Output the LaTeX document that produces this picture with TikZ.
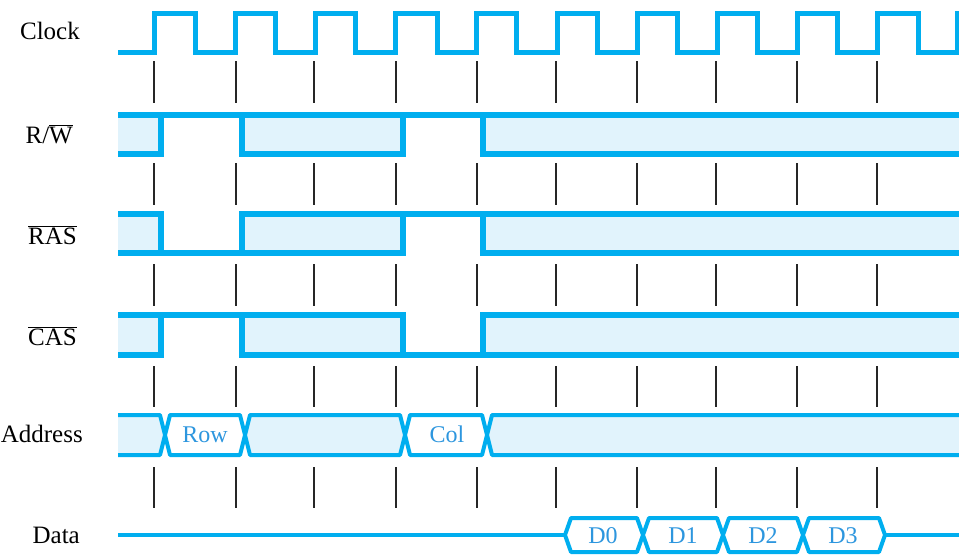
\documentclass[tikz,border=0pt]{standalone}
\usepackage{fontspec}
\setmainfont{Liberation Serif}
\definecolor{sigblue}{RGB}{0,174,239}
\definecolor{sigfill}{RGB}{225,243,252}
\definecolor{txtblue}{RGB}{45,150,222}
\tikzset{
  sig/.style={draw=sigblue, line width=5.5pt, line join=miter},
  bus/.style={draw=sigblue, line width=4pt, line join=round},
  shaded/.style={fill=sigfill},
  tickline/.style={draw=black!85, line width=1.6pt},
  lbl/.style={inner sep=0pt, anchor=base east, font=\fontsize{25}{30}\selectfont},
  inlbl/.style={inner sep=0pt, anchor=base, text=txtblue, font=\fontsize{24}{28}\selectfont}
}
\begin{document}
\begin{tikzpicture}[x=1pt,y=-1pt]
\useasboundingbox (0,0) rectangle (959,555);
\clip (0,0) rectangle (959,555);

% labels
\node[lbl] (lclk) at (80,39) {Clock};
\node[lbl] (lrw) at (73,143) {R/$\overline{\mbox{W}}$};
\node[lbl] (lras) at (77,244) {$\overline{\mbox{RAS}}$};
\node[lbl] (lcas) at (77,345) {$\overline{\mbox{CAS}}$};
\node[lbl] (ladr) at (83,442) {Address};
\node[lbl] (ldat) at (80,543) {Data};

% clock
\draw[sig, line width=5pt] (118,52) -- (154,52) -- (154,13) -- (195,13) -- (195,52)
  -- (235,52) -- (235,13) -- (275,13) -- (275,52)
  -- (315,52) -- (315,13) -- (355,13) -- (355,52)
  -- (395,52) -- (395,13) -- (437,13) -- (437,52)
  -- (476,52) -- (476,13) -- (516,13) -- (516,52)
  -- (557,52) -- (557,13) -- (597,13) -- (597,52)
  -- (637,52) -- (637,13) -- (677,13) -- (677,52)
  -- (717,52) -- (717,13) -- (757,13) -- (757,52)
  -- (797,52) -- (797,13) -- (837,13) -- (837,52)
  -- (877,52) -- (877,13) -- (918,13) -- (918,52)
  -- (957,52) -- (957,13) -- (965,13);

% ticks
\foreach \y/\z in {61/103,163/205,264/306,366/407,467/508}
  \foreach \x in {154,236,314,396,477,556,637,716,797,877}
    \draw[tickline] (\x,\y) -- (\x,\z);

% R/W
\fill[shaded] (118,115) rectangle (161,154);
\fill[shaded] (242,115) rectangle (403,154);
\fill[shaded] (483,115) rectangle (965,154);
\draw[sig] (118,115) -- (965,115);
\draw[sig] (118,154) -- (161,154) -- (161,115);
\draw[sig] (242,115) -- (242,154) -- (403,154) -- (403,115);
\draw[sig] (483,115) -- (483,154) -- (965,154);

% RAS
\fill[shaded] (118,214) rectangle (161,253);
\fill[shaded] (242,214) rectangle (403,253);
\fill[shaded] (483,214) rectangle (965,253);
\draw[sig] (118,214) -- (161,214) -- (161,253);
\draw[sig] (118,253) -- (403,253) -- (403,214);
\draw[sig] (242,253) -- (242,214) -- (965,214);
\draw[sig] (483,214) -- (483,253) -- (965,253);

% CAS
\fill[shaded] (118,315) rectangle (161,355);
\fill[shaded] (242,315) rectangle (403,355);
\fill[shaded] (483,315) rectangle (965,355);
\draw[sig] (118,355) -- (161,355) -- (161,315);
\draw[sig] (118,315) -- (403,315) -- (403,355) -- (965,355);
\draw[sig] (242,315) -- (242,355) -- (403,355);
\draw[sig] (483,355) -- (483,315) -- (965,315);

% Address
\path[bus, shaded] (118,415) -- (160,415) -- (165,435) -- (160,455) -- (118,455);
\draw[bus] (170,415) -- (240,415) -- (245,435) -- (240,455) -- (170,455) -- (165,435) -- cycle;
\path[bus, shaded] (250,415) -- (400,415) -- (405,435) -- (400,455) -- (250,455) -- (245,435) -- cycle;
\draw[bus] (410,415) -- (482,415) -- (487,435) -- (482,455) -- (410,455) -- (405,435) -- cycle;
\path[bus, shaded] (965,415) -- (492,415) -- (487,435) -- (492,455) -- (965,455);
\node[inlbl] (row) at (205,442) {Row};
\node[inlbl] (col) at (447,442) {Col};

% Data
\draw[bus] (118,535) -- (565,535);
\draw[bus] (571,518) -- (637,518) -- (643,535) -- (637,552) -- (571,552) -- (565,535) -- cycle;
\draw[bus] (649,518) -- (717,518) -- (723,535) -- (717,552) -- (649,552) -- (643,535) -- cycle;
\draw[bus] (729,518) -- (797,518) -- (803,535) -- (797,552) -- (729,552) -- (723,535) -- cycle;
\draw[bus] (809,518) -- (879,518) -- (885,535) -- (879,552) -- (809,552) -- (803,535) -- cycle;
\draw[bus] (885,535) -- (965,535);
\node[inlbl] (d0) at (603,543) {D0};
\node[inlbl] (d1) at (683,543) {D1};
\node[inlbl] (d2) at (763,543) {D2};
\node[inlbl] (d3) at (843,543) {D3};
\end{tikzpicture}
\end{document}
